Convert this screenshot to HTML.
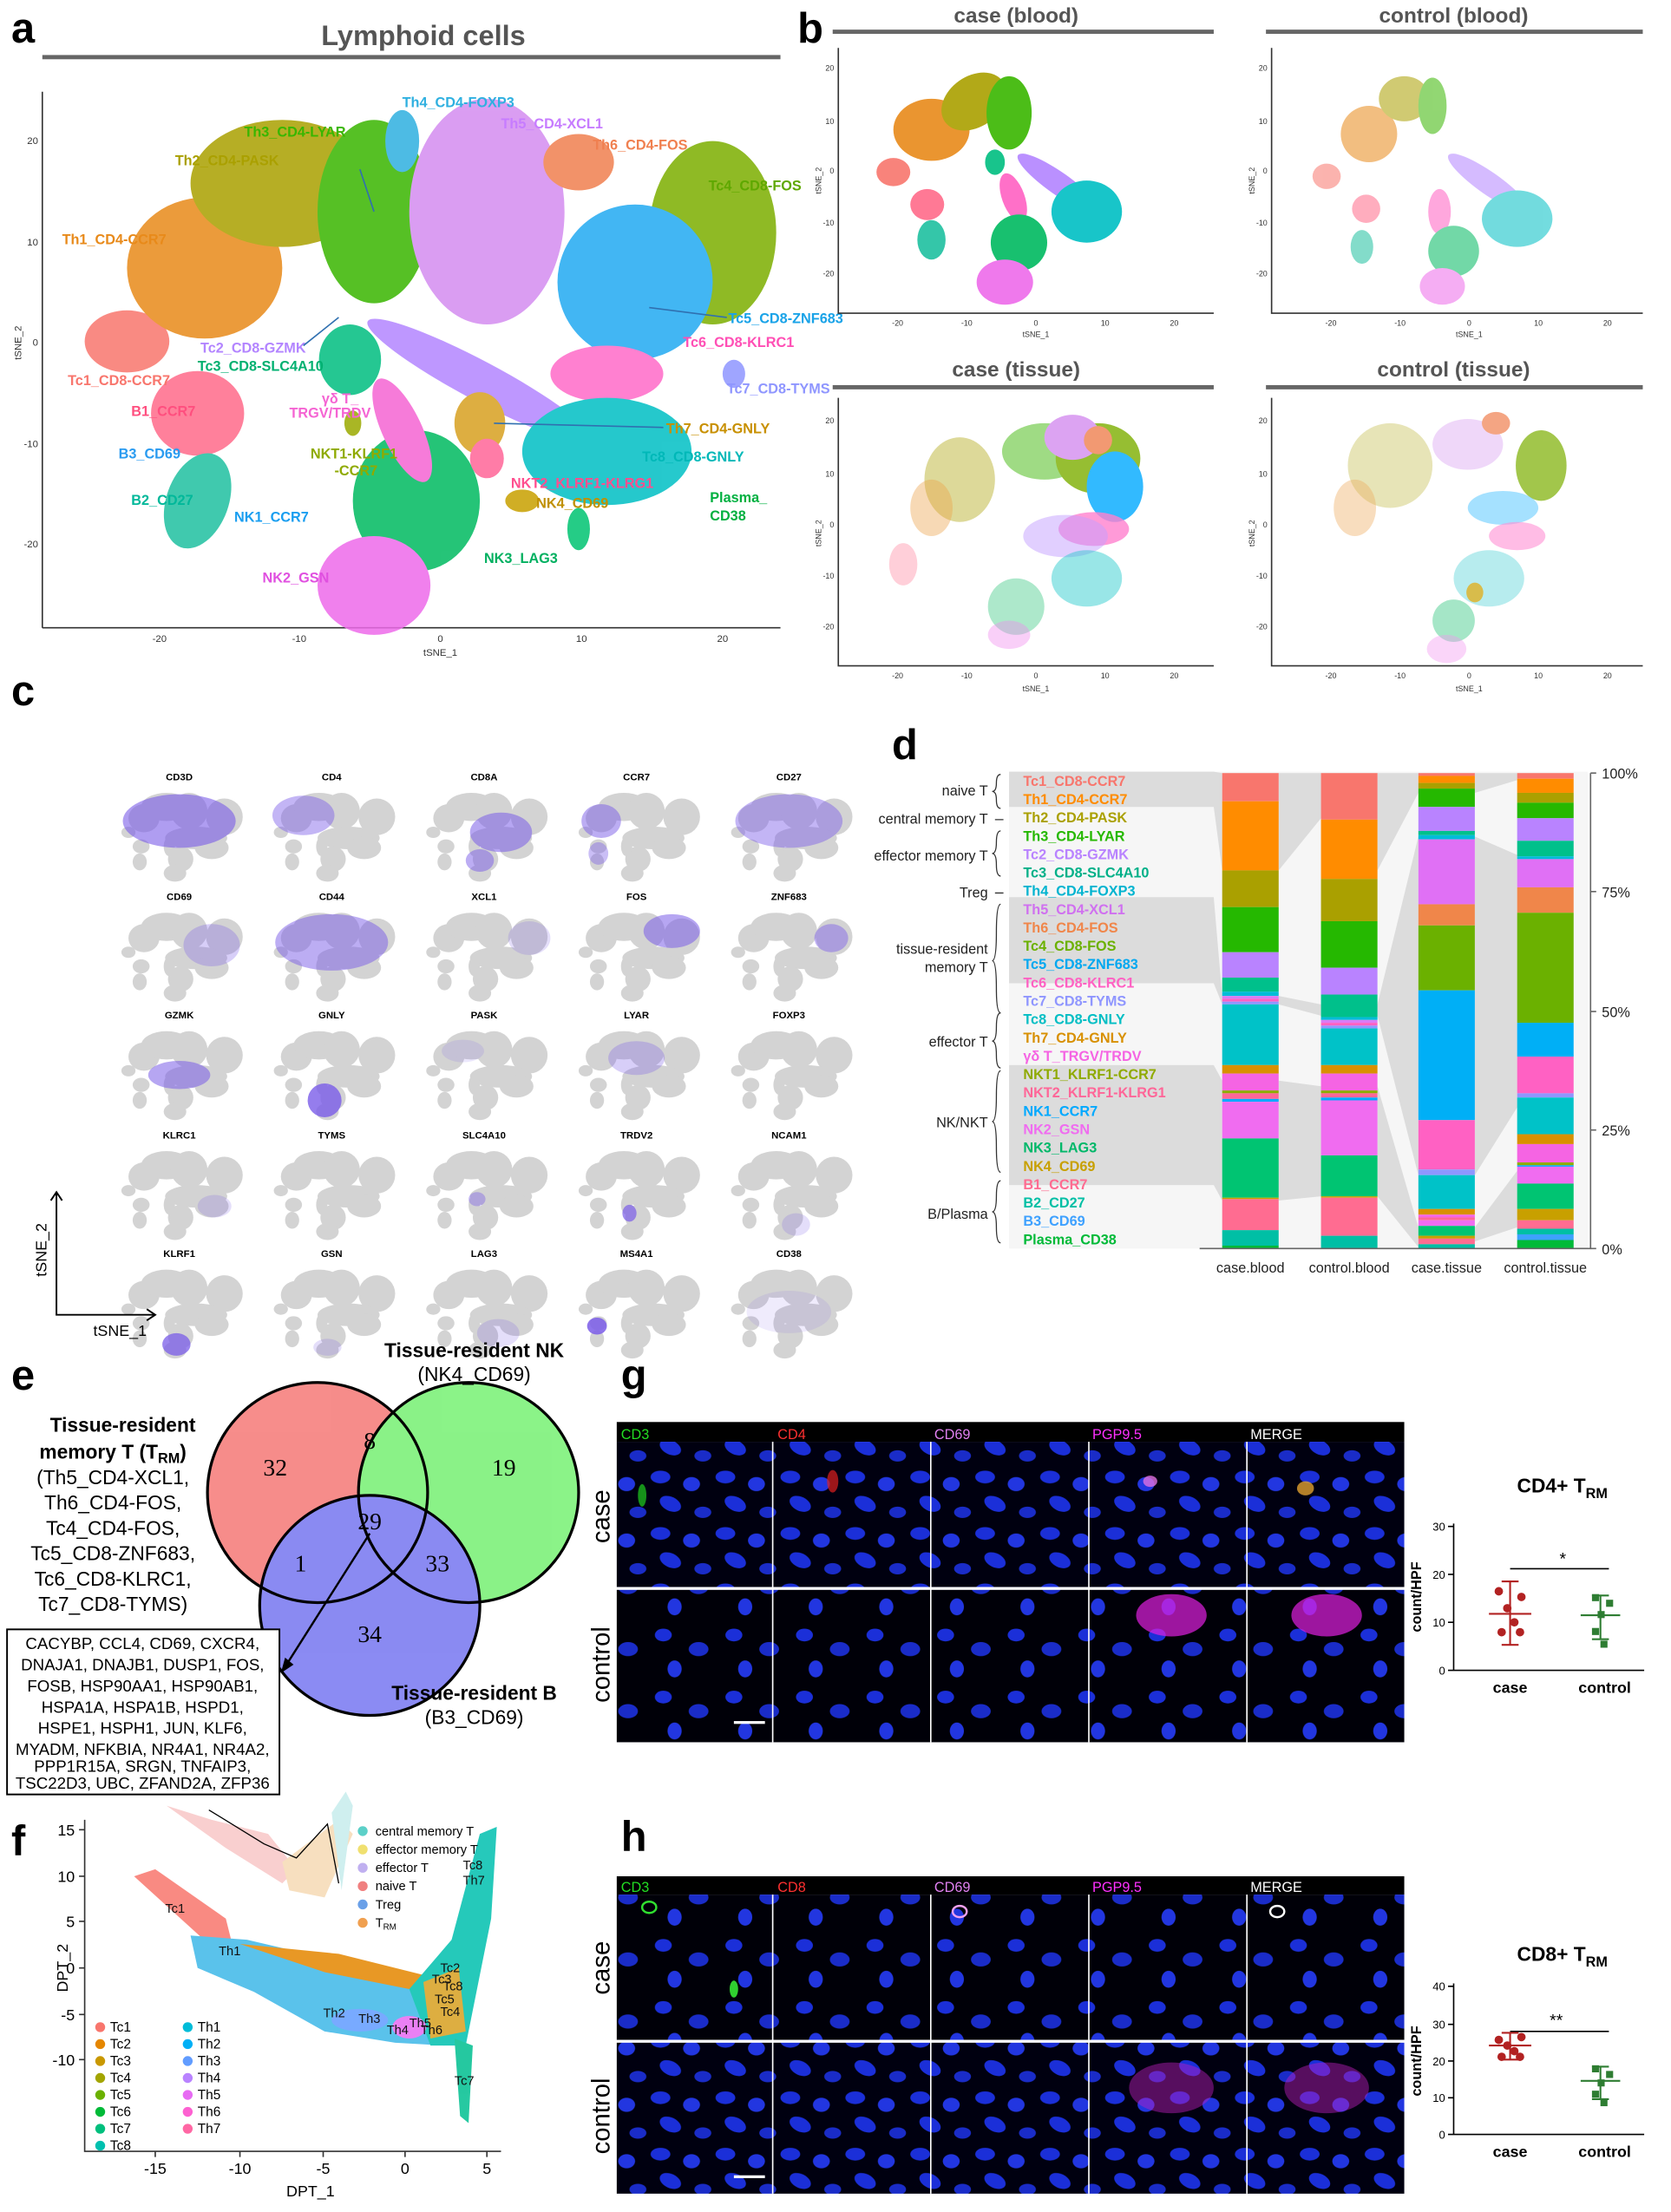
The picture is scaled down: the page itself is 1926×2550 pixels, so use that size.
<!DOCTYPE html>
<html><head><meta charset="utf-8"><style>
html,body{margin:0;padding:0;background:#fff;}
svg{display:block;font-family:"Liberation Sans",Arial,sans-serif;}
</style></head><body>
<svg width="1926" height="2550" viewBox="0 0 1184 1568" preserveAspectRatio="none" xmlns="http://www.w3.org/2000/svg">
<defs>
<g id="mini">
<ellipse cx="9" cy="30" rx="5" ry="4" fill="#d3d3d3"/>
<ellipse cx="20" cy="20" rx="11" ry="10" fill="#d3d3d3"/>
<ellipse cx="36" cy="12" rx="18" ry="10" fill="#d3d3d3"/>
<ellipse cx="52" cy="15" rx="13" ry="13" fill="#d3d3d3"/>
<ellipse cx="77" cy="19" rx="13" ry="13" fill="#d3d3d3"/>
<ellipse cx="57" cy="34" rx="22" ry="8" fill="#d3d3d3"/>
<ellipse cx="18" cy="40" rx="6" ry="5" fill="#d3d3d3"/>
<ellipse cx="17" cy="51" rx="5" ry="6" fill="#d3d3d3"/>
<ellipse cx="46" cy="49" rx="9" ry="9" fill="#d3d3d3"/>
<ellipse cx="42" cy="59" rx="8" ry="6" fill="#d3d3d3"/>
<ellipse cx="68" cy="41" rx="12" ry="8" fill="#d3d3d3"/>
<ellipse cx="38" cy="40" rx="4" ry="7" fill="#d3d3d3"/>
</g>
<pattern id="nuc" x="0" y="0" width="46" height="40" patternUnits="userSpaceOnUse">
<rect width="46" height="40" fill="#000010"/>
<ellipse cx="8" cy="7" rx="7" ry="4.5" fill="#1b2fd8"/>
<ellipse cx="30" cy="12" rx="6" ry="5" fill="#2236e0"/>
<ellipse cx="15" cy="26" rx="8" ry="5" fill="#1b2fd8" transform="rotate(25 15 26)"/>
<ellipse cx="38" cy="32" rx="6" ry="4" fill="#1a2cc8"/>
</pattern>
<pattern id="nuc2" x="10" y="5" width="50" height="44" patternUnits="userSpaceOnUse">
<rect width="50" height="44" fill="#000008"/>
<ellipse cx="10" cy="10" rx="6" ry="4.5" fill="#1b2fd8"/>
<ellipse cx="35" cy="20" rx="7" ry="5" fill="#1a2cc8"/>
<ellipse cx="18" cy="34" rx="5" ry="6" fill="#2236e0"/>
</pattern>
</defs>
<rect width="1184" height="1568" fill="#fff"/>

<!-- ================= Panel a ================= -->
<text x="8" y="30" font-size="30" font-weight="bold">a</text>
<text x="300" y="32" font-size="20" font-weight="bold" fill="#555" text-anchor="middle">Lymphoid cells</text>
<rect x="30" y="39" width="523" height="3" fill="#666"/>
<line x1="30" y1="65" x2="30" y2="445" stroke="#333"/>
<line x1="30" y1="445" x2="553" y2="445" stroke="#333"/>
<g font-size="7" fill="#333" text-anchor="end">
<text x="27" y="102">20</text><text x="27" y="174">10</text><text x="27" y="245">0</text><text x="27" y="317">-10</text><text x="27" y="388">-20</text></g>
<g font-size="7" fill="#333" text-anchor="middle">
<text x="113" y="455">-20</text><text x="212" y="455">-10</text><text x="312" y="455">0</text><text x="412" y="455">10</text><text x="512" y="455">20</text>
<text x="312" y="465">tSNE_1</text></g>
<text x="15" y="243" font-size="7" fill="#333" text-anchor="middle" transform="rotate(-90 15 243)">tSNE_2</text>
<g opacity="0.85">
<ellipse cx="90" cy="242" rx="30" ry="22" fill="#F8766D"/>
<ellipse cx="145" cy="190" rx="55" ry="50" fill="#E88A1A"/>
<ellipse cx="200" cy="130" rx="65" ry="45" fill="#AAA000"/>
<ellipse cx="265" cy="150" rx="40" ry="65" fill="#39B600"/>
<ellipse cx="285" cy="100" rx="12" ry="22" fill="#2FB0E0"/>
<ellipse cx="345" cy="150" rx="55" ry="80" fill="#D48DF0"/>
<ellipse cx="410" cy="115" rx="25" ry="20" fill="#F08050"/>
<ellipse cx="505" cy="165" rx="45" ry="65" fill="#7CAE00"/>
<ellipse cx="450" cy="200" rx="55" ry="55" fill="#22AAF2"/>
<ellipse cx="430" cy="265" rx="40" ry="20" fill="#FF6BC8"/>
<ellipse cx="340" cy="270" rx="90" ry="14" fill="#B385FF" transform="rotate(28 340 270)"/>
<ellipse cx="248" cy="255" rx="22" ry="25" fill="#00BE80"/>
<ellipse cx="430" cy="320" rx="60" ry="38" fill="#00BFC4"/>
<ellipse cx="340" cy="300" rx="18" ry="22" fill="#D8A020"/>
<ellipse cx="140" cy="293" rx="33" ry="30" fill="#FF6B8A"/>
<ellipse cx="140" cy="355" rx="22" ry="35" fill="#1FC0A0" transform="rotate(20 140 355)"/>
<ellipse cx="295" cy="355" rx="45" ry="50" fill="#00BA60"/>
<ellipse cx="265" cy="415" rx="40" ry="35" fill="#EE6BEA"/>
<ellipse cx="285" cy="305" rx="14" ry="40" fill="#F564D3" transform="rotate(-25 285 305)"/>
<ellipse cx="345" cy="325" rx="12" ry="14" fill="#FF6698"/>
<ellipse cx="370" cy="355" rx="12" ry="8" fill="#C8A000"/>
<ellipse cx="250" cy="300" rx="6" ry="9" fill="#9BAA00"/>
<ellipse cx="520" cy="265" rx="8" ry="10" fill="#8F96FF"/>
<ellipse cx="410" cy="375" rx="8" ry="15" fill="#00C472"/>
</g>
<g font-size="10" font-weight="bold">
<text x="285" y="76" fill="#2FB0E0">Th4_CD4-FOXP3</text>
<text x="173" y="97" fill="#39B600">Th3_CD4-LYAR</text>
<text x="355" y="91" fill="#C77CFF">Th5_CD4-XCL1</text>
<text x="420" y="106" fill="#F08050">Th6_CD4-FOS</text>
<text x="124" y="117" fill="#AAA000">Th2_CD4-PASK</text>
<text x="502" y="135" fill="#5FA800">Tc4_CD8-FOS</text>
<text x="44" y="173" fill="#E88A1A">Th1_CD4-CCR7</text>
<text x="516" y="229" fill="#1AA3E8">Tc5_CD8-ZNF683</text>
<text x="484" y="246" fill="#FF4FB5">Tc6_CD8-KLRC1</text>
<text x="142" y="250" fill="#B385FF">Tc2_CD8-GZMK</text>
<text x="140" y="263" fill="#00B070">Tc3_CD8-SLC4A10</text>
<text x="48" y="273" fill="#F8766D">Tc1_CD8-CCR7</text>
<text x="515" y="279" fill="#8F96FF">Tc7_CD8-TYMS</text>
<text x="228" y="286" fill="#F564D3">γδ T_</text>
<text x="205" y="296" fill="#F564D3">TRGV/TRDV</text>
<text x="93" y="295" fill="#FF4F7F">B1_CCR7</text>
<text x="472" y="307" fill="#C89000">Th7_CD4-GNLY</text>
<text x="84" y="325" fill="#2A9BF0">B3_CD69</text>
<text x="220" y="325" fill="#8FAA00">NKT1-KLRF1</text>
<text x="237" y="337" fill="#8FAA00">-CCR7</text>
<text x="455" y="327" fill="#00B8B8">Tc8_CD8-GNLY</text>
<text x="362" y="346" fill="#FF4F8F">NKT2_KLRF1-KLRG1</text>
<text x="93" y="358" fill="#00B89A">B2_CD27</text>
<text x="380" y="360" fill="#C09000">NK4_CD69</text>
<text x="503" y="356" fill="#00B040">Plasma_</text>
<text x="503" y="369" fill="#00B040">CD38</text>
<text x="166" y="370" fill="#1A9EF0">NK1_CCR7</text>
<text x="343" y="399" fill="#00B060">NK3_LAG3</text>
<text x="186" y="413" fill="#E050E0">NK2_GSN</text>
</g>
<g stroke="#3070B0" stroke-width="1">
<line x1="255" y1="120" x2="265" y2="150"/>
<line x1="515" y1="225" x2="460" y2="218"/>
<line x1="215" y1="245" x2="240" y2="225"/>
<line x1="470" y1="303" x2="350" y2="300"/>
</g>

<!-- ================= Panel b ================= -->
<text x="565" y="30" font-size="30" font-weight="bold">b</text>
<g font-size="15" font-weight="bold" fill="#555" text-anchor="middle">
<text x="720" y="16">case (blood)</text><text x="1030" y="16">control (blood)</text>
<text x="720" y="267">case (tissue)</text><text x="1030" y="267">control (tissue)</text></g>
<g fill="#666"><rect x="590" y="21" width="270" height="3"/><rect x="897" y="21" width="267" height="3"/>
<rect x="590" y="273" width="270" height="3"/><rect x="897" y="273" width="267" height="3"/></g>
<g stroke="#333" fill="none">
<path d="M594 34 V222 H860"/><path d="M901 34 V222 H1164"/>
<path d="M594 282 V472 H860"/><path d="M901 282 V472 H1164"/>
</g>
<g font-size="5.5" fill="#333" text-anchor="middle">
<text x="636" y="231">-20</text><text x="685" y="231">-10</text><text x="734" y="231">0</text><text x="783" y="231">10</text><text x="832" y="231">20</text>
<text x="943" y="231">-20</text><text x="992" y="231">-10</text><text x="1041" y="231">0</text><text x="1090" y="231">10</text><text x="1139" y="231">20</text>
<text x="734" y="239">tSNE_1</text><text x="1041" y="239">tSNE_1</text>
<text x="636" y="481">-20</text><text x="685" y="481">-10</text><text x="734" y="481">0</text><text x="783" y="481">10</text><text x="832" y="481">20</text>
<text x="943" y="481">-20</text><text x="992" y="481">-10</text><text x="1041" y="481">0</text><text x="1090" y="481">10</text><text x="1139" y="481">20</text>
<text x="734" y="490">tSNE_1</text><text x="1041" y="490">tSNE_1</text>
</g>
<g font-size="5.5" fill="#333" text-anchor="end">
<text x="591" y="50">20</text><text x="591" y="88">10</text><text x="591" y="123">0</text><text x="591" y="160">-10</text><text x="591" y="196">-20</text>
<text x="898" y="50">20</text><text x="898" y="88">10</text><text x="898" y="123">0</text><text x="898" y="160">-10</text><text x="898" y="196">-20</text>
<text x="591" y="300">20</text><text x="591" y="338">10</text><text x="591" y="374">0</text><text x="591" y="410">-10</text><text x="591" y="446">-20</text>
<text x="898" y="300">20</text><text x="898" y="338">10</text><text x="898" y="374">0</text><text x="898" y="410">-10</text><text x="898" y="446">-20</text>
</g>
<g font-size="5.5" fill="#333" text-anchor="middle">
<text x="582" y="128" transform="rotate(-90 582 128)">tSNE_2</text><text x="889" y="128" transform="rotate(-90 889 128)">tSNE_2</text>
<text x="582" y="378" transform="rotate(-90 582 378)">tSNE_2</text><text x="889" y="378" transform="rotate(-90 889 378)">tSNE_2</text></g>
<g opacity="0.9">
<ellipse cx="633" cy="122" rx="12" ry="10" fill="#F8766D"/>
<ellipse cx="660" cy="92" rx="27" ry="22" fill="#E88A1A"/>
<ellipse cx="690" cy="72" rx="25" ry="18" fill="#AAA000" transform="rotate(-35 690 72)"/>
<ellipse cx="715" cy="80" rx="16" ry="26" fill="#39B600"/>
<ellipse cx="750" cy="130" rx="35" ry="8" fill="#B385FF" transform="rotate(35 750 130)"/>
<ellipse cx="770" cy="150" rx="25" ry="22" fill="#00BFC4"/>
<ellipse cx="718" cy="140" rx="8" ry="18" fill="#FF61C3" transform="rotate(-20 718 140)"/>
<ellipse cx="705" cy="115" rx="7" ry="9" fill="#00BE80"/>
<ellipse cx="657" cy="145" rx="12" ry="11" fill="#FF6B8A"/>
<ellipse cx="660" cy="170" rx="10" ry="14" fill="#1FC0A0"/>
<ellipse cx="722" cy="172" rx="20" ry="20" fill="#00BA60"/>
<ellipse cx="712" cy="200" rx="20" ry="16" fill="#EE6BEA"/>
</g>
<g opacity="0.55">
<ellipse cx="940" cy="125" rx="10" ry="9" fill="#F8766D"/>
<ellipse cx="970" cy="95" rx="20" ry="20" fill="#E88A1A"/>
<ellipse cx="995" cy="70" rx="18" ry="16" fill="#AAA000"/>
<ellipse cx="1015" cy="75" rx="10" ry="20" fill="#39B600"/>
<ellipse cx="1055" cy="130" rx="35" ry="8" fill="#B385FF" transform="rotate(35 1055 130)"/>
<ellipse cx="1075" cy="155" rx="25" ry="20" fill="#00BFC4"/>
<ellipse cx="1020" cy="150" rx="8" ry="16" fill="#FF61C3"/>
<ellipse cx="968" cy="148" rx="10" ry="10" fill="#FF6B8A"/>
<ellipse cx="965" cy="175" rx="8" ry="12" fill="#1FC0A0"/>
<ellipse cx="1030" cy="178" rx="18" ry="18" fill="#00BA60"/>
<ellipse cx="1022" cy="203" rx="16" ry="13" fill="#EE6BEA"/>
</g>
<g opacity="0.8">
<ellipse cx="680" cy="340" rx="25" ry="30" fill="#AAA000" opacity="0.5"/>
<ellipse cx="660" cy="360" rx="15" ry="20" fill="#E88A1A" opacity="0.4"/>
<ellipse cx="740" cy="320" rx="30" ry="20" fill="#39B600" opacity="0.6"/>
<ellipse cx="778" cy="325" rx="30" ry="25" fill="#7CAE00"/>
<ellipse cx="760" cy="310" rx="20" ry="16" fill="#D48DF0"/>
<ellipse cx="778" cy="312" rx="10" ry="10" fill="#F08050"/>
<ellipse cx="790" cy="345" rx="20" ry="25" fill="#00A9FF"/>
<ellipse cx="775" cy="375" rx="25" ry="12" fill="#FF61C3" opacity="0.8"/>
<ellipse cx="755" cy="380" rx="30" ry="15" fill="#B385FF" opacity="0.5"/>
<ellipse cx="770" cy="410" rx="25" ry="20" fill="#00BFC4" opacity="0.5"/>
<ellipse cx="720" cy="430" rx="20" ry="20" fill="#00BA60" opacity="0.4"/>
<ellipse cx="715" cy="450" rx="15" ry="10" fill="#EE6BEA" opacity="0.4"/>
<ellipse cx="640" cy="400" rx="10" ry="15" fill="#FF6B8A" opacity="0.4"/>
</g>
<g opacity="0.7">
<ellipse cx="985" cy="330" rx="30" ry="30" fill="#AAA000" opacity="0.4"/>
<ellipse cx="960" cy="360" rx="15" ry="20" fill="#E88A1A" opacity="0.4"/>
<ellipse cx="1040" cy="315" rx="25" ry="18" fill="#D48DF0" opacity="0.5"/>
<ellipse cx="1060" cy="300" rx="10" ry="8" fill="#F08050"/>
<ellipse cx="1092" cy="330" rx="18" ry="25" fill="#7CAE00"/>
<ellipse cx="1065" cy="360" rx="25" ry="12" fill="#00A9FF" opacity="0.5"/>
<ellipse cx="1075" cy="380" rx="20" ry="10" fill="#FF61C3" opacity="0.6"/>
<ellipse cx="1055" cy="410" rx="25" ry="20" fill="#00BFC4" opacity="0.4"/>
<ellipse cx="1030" cy="440" rx="15" ry="15" fill="#00BA60" opacity="0.5"/>
<ellipse cx="1025" cy="460" rx="14" ry="10" fill="#EE6BEA" opacity="0.4"/>
<ellipse cx="1045" cy="420" rx="6" ry="7" fill="#C8A000"/>
</g>

<!-- ================= Panel c ================= -->
<text x="8" y="500" font-size="30" font-weight="bold">c</text>
<g font-size="7" font-weight="bold" text-anchor="middle">
<text x="127" y="553">CD3D</text><text x="235" y="553">CD4</text><text x="343" y="553">CD8A</text><text x="451" y="553">CCR7</text><text x="559" y="553">CD27</text>
<text x="127" y="638">CD69</text><text x="235" y="638">CD44</text><text x="343" y="638">XCL1</text><text x="451" y="638">FOS</text><text x="559" y="638">ZNF683</text>
<text x="127" y="722">GZMK</text><text x="235" y="722">GNLY</text><text x="343" y="722">PASK</text><text x="451" y="722">LYAR</text><text x="559" y="722">FOXP3</text>
<text x="127" y="807">KLRC1</text><text x="235" y="807">TYMS</text><text x="343" y="807">SLC4A10</text><text x="451" y="807">TRDV2</text><text x="559" y="807">NCAM1</text>
<text x="127" y="891">KLRF1</text><text x="235" y="891">GSN</text><text x="343" y="891">LAG3</text><text x="451" y="891">MS4A1</text><text x="559" y="891">CD38</text>
</g>
<g>
<use href="#mini" x="82" y="560"/><use href="#mini" x="190" y="560"/><use href="#mini" x="298" y="560"/><use href="#mini" x="406" y="560"/><use href="#mini" x="514" y="560"/>
<use href="#mini" x="82" y="645"/><use href="#mini" x="190" y="645"/><use href="#mini" x="298" y="645"/><use href="#mini" x="406" y="645"/><use href="#mini" x="514" y="645"/>
<use href="#mini" x="82" y="729"/><use href="#mini" x="190" y="729"/><use href="#mini" x="298" y="729"/><use href="#mini" x="406" y="729"/><use href="#mini" x="514" y="729"/>
<use href="#mini" x="82" y="814"/><use href="#mini" x="190" y="814"/><use href="#mini" x="298" y="814"/><use href="#mini" x="406" y="814"/><use href="#mini" x="514" y="814"/>
<use href="#mini" x="82" y="898"/><use href="#mini" x="190" y="898"/><use href="#mini" x="298" y="898"/><use href="#mini" x="406" y="898"/><use href="#mini" x="514" y="898"/>
</g>
<g fill="#7a5ce8">
<ellipse cx="127" cy="582" rx="40" ry="19" opacity="0.6"/>
<ellipse cx="215" cy="578" rx="22" ry="14" opacity="0.45"/>
<ellipse cx="355" cy="590" rx="22" ry="14" opacity="0.55"/><ellipse cx="340" cy="610" rx="10" ry="8" opacity="0.5"/>
<ellipse cx="426" cy="582" rx="14" ry="12" opacity="0.5"/><ellipse cx="424" cy="605" rx="7" ry="8" opacity="0.4"/>
<ellipse cx="559" cy="582" rx="38" ry="19" opacity="0.45"/>
<ellipse cx="150" cy="670" rx="20" ry="15" opacity="0.3"/>
<ellipse cx="235" cy="668" rx="40" ry="20" opacity="0.5"/>
<ellipse cx="375" cy="665" rx="15" ry="12" opacity="0.2"/>
<ellipse cx="476" cy="660" rx="20" ry="12" opacity="0.55"/>
<ellipse cx="589" cy="665" rx="12" ry="10" opacity="0.45"/>
<ellipse cx="127" cy="762" rx="22" ry="10" opacity="0.55"/>
<ellipse cx="230" cy="780" rx="12" ry="12" opacity="0.8"/>
<ellipse cx="328" cy="745" rx="15" ry="8" opacity="0.15"/>
<ellipse cx="451" cy="750" rx="20" ry="12" opacity="0.3"/>
<ellipse cx="152" cy="855" rx="12" ry="8" opacity="0.2"/>
<ellipse cx="338" cy="850" rx="6" ry="5" opacity="0.4"/>
<ellipse cx="446" cy="860" rx="5" ry="6" opacity="0.7"/>
<ellipse cx="564" cy="868" rx="10" ry="8" opacity="0.2"/>
<ellipse cx="125" cy="953" rx="10" ry="8" opacity="0.75"/>
<ellipse cx="232" cy="955" rx="10" ry="6" opacity="0.2"/>
<ellipse cx="353" cy="945" rx="15" ry="10" opacity="0.2"/>
<ellipse cx="423" cy="940" rx="7" ry="6" opacity="0.85"/>
<ellipse cx="559" cy="930" rx="30" ry="15" opacity="0.12"/>
</g>
<g stroke="#000" stroke-width="1.2" fill="none">
<path d="M40 845 V932 H110"/><path d="M36 851 L40 845 L44 851"/><path d="M104 928 L110 932 L104 936"/>
</g>
<text x="33" y="886" font-size="11" text-anchor="middle" transform="rotate(-90 33 886)">tSNE_2</text>
<text x="85" y="947" font-size="11" text-anchor="middle">tSNE_1</text>

<!-- ================= Panel d ================= -->
<text x="632" y="538" font-size="30" font-weight="bold">d</text>
<rect x="715" y="547" width="410" height="338" fill="#f6f6f6"/>
<g fill="#dcdcdc">
<polygon points="715,547 860,547 866,548 866,617 860,572 715,572"/>
<polygon points="715,636 860,636 866,706 866,712 860,697 715,697"/>
<polygon points="715,755 860,755 866,766 866,851 860,840 715,840"/>
<polygon points="906,548 936,548 936,580 906,617"/>
<polygon points="906,706 936,712 936,720 906,712"/>
<polygon points="906,766 936,770 936,848 906,851"/>
<polygon points="976,548 1005,548 1005,562 976,617"/>
<polygon points="976,712 1005,593 1005,833 976,720"/>
<polygon points="976,770 1005,870 1005,884 976,848"/>
<polygon points="1045,548 1075,548 1075,553 1045,562"/>
<polygon points="1045,593 1075,606 1075,785 1045,833"/>
<polygon points="1045,870 1075,830 1075,870 1045,880"/>
</g>
<g>
<rect x="866" y="548" width="40" height="20" fill="#F8766D"/>
<rect x="866" y="568" width="40" height="49" fill="#FF8C00"/>
<rect x="866" y="617" width="40" height="26" fill="#AAA000"/>
<rect x="866" y="643" width="40" height="32" fill="#25B800"/>
<rect x="866" y="675" width="40" height="18" fill="#B983FF"/>
<rect x="866" y="693" width="40" height="10" fill="#00C08B"/>
<rect x="866" y="703" width="40" height="3" fill="#00BCD8"/>
<rect x="866" y="706" width="40" height="2" fill="#D97BF5"/>
<rect x="866" y="708" width="40" height="2" fill="#FF61C3"/>
<rect x="866" y="710" width="40" height="2" fill="#8F96FF"/>
<rect x="866" y="712" width="40" height="43" fill="#00C2C8"/>
<rect x="866" y="755" width="40" height="6" fill="#D89000"/>
<rect x="866" y="761" width="40" height="12" fill="#F564E3"/>
<rect x="866" y="773" width="40" height="2" fill="#8FAA00"/>
<rect x="866" y="775" width="40" height="4" fill="#FF6698"/>
<rect x="866" y="779" width="40" height="2" fill="#00A9FF"/>
<rect x="866" y="781" width="40" height="26" fill="#F06CF0"/>
<rect x="866" y="807" width="40" height="42" fill="#00C472"/>
<rect x="866" y="849" width="40" height="1" fill="#C8A000"/>
<rect x="866" y="850" width="40" height="22" fill="#FF6C91"/>
<rect x="866" y="872" width="40" height="11" fill="#00BFA5"/>
<rect x="866" y="883" width="40" height="2" fill="#00BA38"/>
</g>
<g>
<rect x="936" y="548" width="40" height="33" fill="#F8766D"/>
<rect x="936" y="581" width="40" height="42" fill="#FF8C00"/>
<rect x="936" y="623" width="40" height="30" fill="#AAA000"/>
<rect x="936" y="653" width="40" height="33" fill="#25B800"/>
<rect x="936" y="686" width="40" height="19" fill="#B983FF"/>
<rect x="936" y="705" width="40" height="16" fill="#00C08B"/>
<rect x="936" y="721" width="40" height="2" fill="#00BCD8"/>
<rect x="936" y="723" width="40" height="2" fill="#D97BF5"/>
<rect x="936" y="725" width="40" height="2" fill="#FF61C3"/>
<rect x="936" y="727" width="40" height="2" fill="#8F96FF"/>
<rect x="936" y="729" width="40" height="26" fill="#00C2C8"/>
<rect x="936" y="755" width="40" height="6" fill="#D89000"/>
<rect x="936" y="761" width="40" height="12" fill="#F564E3"/>
<rect x="936" y="773" width="40" height="2" fill="#8FAA00"/>
<rect x="936" y="775" width="40" height="3" fill="#FF6698"/>
<rect x="936" y="778" width="40" height="2" fill="#00A9FF"/>
<rect x="936" y="780" width="40" height="39" fill="#F06CF0"/>
<rect x="936" y="819" width="40" height="29" fill="#00C472"/>
<rect x="936" y="848" width="40" height="1" fill="#C8A000"/>
<rect x="936" y="849" width="40" height="27" fill="#FF6C91"/>
<rect x="936" y="876" width="40" height="9" fill="#00BFA5"/>
</g>
<g>
<rect x="1005" y="548" width="40" height="2" fill="#F8766D"/>
<rect x="1005" y="550" width="40" height="5" fill="#FF8C00"/>
<rect x="1005" y="555" width="40" height="4" fill="#AAA000"/>
<rect x="1005" y="559" width="40" height="13" fill="#25B800"/>
<rect x="1005" y="572" width="40" height="17" fill="#B983FF"/>
<rect x="1005" y="589" width="40" height="3" fill="#00C08B"/>
<rect x="1005" y="592" width="40" height="3" fill="#00BCD8"/>
<rect x="1005" y="595" width="40" height="46" fill="#E070F5"/>
<rect x="1005" y="641" width="40" height="15" fill="#F0864A"/>
<rect x="1005" y="656" width="40" height="46" fill="#6BB100"/>
<rect x="1005" y="702" width="40" height="92" fill="#00AFF6"/>
<rect x="1005" y="794" width="40" height="35" fill="#FF61C3"/>
<rect x="1005" y="829" width="40" height="4" fill="#8F96FF"/>
<rect x="1005" y="833" width="40" height="24" fill="#00C2C8"/>
<rect x="1005" y="857" width="40" height="4" fill="#D89000"/>
<rect x="1005" y="861" width="40" height="2" fill="#F564E3"/>
<rect x="1005" y="863" width="40" height="2" fill="#FF6698"/>
<rect x="1005" y="865" width="40" height="4" fill="#F06CF0"/>
<rect x="1005" y="869" width="40" height="7" fill="#00C472"/>
<rect x="1005" y="876" width="40" height="2" fill="#C8A000"/>
<rect x="1005" y="878" width="40" height="4" fill="#FF6C91"/>
<rect x="1005" y="882" width="40" height="3" fill="#00BFA5"/>
</g>
<g>
<rect x="1075" y="548" width="40" height="4" fill="#F8766D"/>
<rect x="1075" y="552" width="40" height="10" fill="#FF8C00"/>
<rect x="1075" y="562" width="40" height="7" fill="#AAA000"/>
<rect x="1075" y="569" width="40" height="11" fill="#25B800"/>
<rect x="1075" y="580" width="40" height="16" fill="#B983FF"/>
<rect x="1075" y="596" width="40" height="11" fill="#00C08B"/>
<rect x="1075" y="607" width="40" height="2" fill="#00BCD8"/>
<rect x="1075" y="609" width="40" height="20" fill="#E070F5"/>
<rect x="1075" y="629" width="40" height="18" fill="#F0864A"/>
<rect x="1075" y="647" width="40" height="78" fill="#6BB100"/>
<rect x="1075" y="725" width="40" height="24" fill="#00AFF6"/>
<rect x="1075" y="749" width="40" height="26" fill="#FF61C3"/>
<rect x="1075" y="775" width="40" height="3" fill="#8F96FF"/>
<rect x="1075" y="778" width="40" height="26" fill="#00C2C8"/>
<rect x="1075" y="804" width="40" height="7" fill="#D89000"/>
<rect x="1075" y="811" width="40" height="13" fill="#F564E3"/>
<rect x="1075" y="824" width="40" height="2" fill="#8FAA00"/>
<rect x="1075" y="826" width="40" height="1" fill="#00A9FF"/>
<rect x="1075" y="827" width="40" height="12" fill="#F06CF0"/>
<rect x="1075" y="839" width="40" height="18" fill="#00C472"/>
<rect x="1075" y="857" width="40" height="8" fill="#C8A000"/>
<rect x="1075" y="865" width="40" height="6" fill="#FF6C91"/>
<rect x="1075" y="871" width="40" height="4" fill="#00BFA5"/>
<rect x="1075" y="875" width="40" height="4" fill="#3EA1FF"/>
<rect x="1075" y="879" width="40" height="6" fill="#00BA38"/>
</g>
<g stroke="#666" fill="none"><path d="M1127 548 V885 H850"/>
<path d="M1127 548 h4 M1127 632 h4 M1127 717 h4 M1127 801 h4 M1127 885 h4"/></g>
<g font-size="10" fill="#222"><text x="1135" y="552">100%</text><text x="1135" y="636">75%</text><text x="1135" y="721">50%</text><text x="1135" y="805">25%</text><text x="1135" y="889">0%</text></g>
<g font-size="10" fill="#222" text-anchor="middle"><text x="886" y="902">case.blood</text><text x="956" y="902">control.blood</text><text x="1025" y="902">case.tissue</text><text x="1095" y="902">control.tissue</text></g>
<g font-size="10" font-weight="bold">
<text x="725" y="557" fill="#F8766D">Tc1_CD8-CCR7</text>
<text x="725" y="570" fill="#FF8C00">Th1_CD4-CCR7</text>
<text x="725" y="583" fill="#AAA000">Th2_CD4-PASK</text>
<text x="725" y="596" fill="#25B800">Th3_CD4-LYAR</text>
<text x="725" y="609" fill="#B983FF">Tc2_CD8-GZMK</text>
<text x="725" y="622" fill="#00B088">Tc3_CD8-SLC4A10</text>
<text x="725" y="635" fill="#00B4D0">Th4_CD4-FOXP3</text>
<text x="725" y="648" fill="#D070F0">Th5_CD4-XCL1</text>
<text x="725" y="661" fill="#F0864A">Th6_CD4-FOS</text>
<text x="725" y="674" fill="#6BB100">Tc4_CD8-FOS</text>
<text x="725" y="687" fill="#00A8F0">Tc5_CD8-ZNF683</text>
<text x="725" y="700" fill="#FF61C3">Tc6_CD8-KLRC1</text>
<text x="725" y="713" fill="#8F96FF">Tc7_CD8-TYMS</text>
<text x="725" y="726" fill="#00BEC4">Tc8_CD8-GNLY</text>
<text x="725" y="739" fill="#D89000">Th7_CD4-GNLY</text>
<text x="725" y="752" fill="#F564E3">γδ T_TRGV/TRDV</text>
<text x="725" y="765" fill="#8FAA00">NKT1_KLRF1-CCR7</text>
<text x="725" y="778" fill="#FF6698">NKT2_KLRF1-KLRG1</text>
<text x="725" y="791" fill="#00A9FF">NK1_CCR7</text>
<text x="725" y="804" fill="#F06CF0">NK2_GSN</text>
<text x="725" y="817" fill="#00B86A">NK3_LAG3</text>
<text x="725" y="830" fill="#C8A000">NK4_CD69</text>
<text x="725" y="843" fill="#FF6C91">B1_CCR7</text>
<text x="725" y="856" fill="#00BFA5">B2_CD27</text>
<text x="725" y="869" fill="#3EA1FF">B3_CD69</text>
<text x="725" y="882" fill="#00BA38">Plasma_CD38</text>
</g>
<g font-size="10" fill="#222" text-anchor="end">
<text x="700" y="564">naive T</text><text x="700" y="584">central memory T</text><text x="700" y="610">effector memory T</text>
<text x="700" y="636">Treg</text><text x="700" y="676">tissue-resident</text><text x="700" y="689">memory T</text>
<text x="700" y="742">effector T</text><text x="700" y="799">NK/NKT</text><text x="700" y="864">B/Plasma</text>
</g>
<g stroke="#333" fill="none" stroke-width="0.8">
<path d="M709 549 q-3 0 -3 6 q0 6 -3 6 q3 0 3 6 q0 6 3 6"/>
<path d="M705 581 h6 M705 633 h6"/>
<path d="M709 589 q-3 0 -3 8 q0 8 -3 8 q3 0 3 8 q0 8 3 8"/>
<path d="M709 641 q-3 0 -3 20 q0 20 -3 20 q3 0 3 20 q0 17 3 17"/>
<path d="M709 718 q-3 0 -3 10 q0 10 -3 10 q3 0 3 10 q0 9 3 9"/>
<path d="M709 759 q-3 0 -3 18 q0 18 -3 18 q3 0 3 18 q0 18 3 18"/>
<path d="M709 837 q-3 0 -3 11 q0 11 -3 11 q3 0 3 11 q0 11 3 11"/>
</g>

<!-- ================= Panel e ================= -->
<text x="8" y="985" font-size="30" font-weight="bold">e</text>
<g opacity="0.8">
<circle cx="225" cy="1058" r="78" fill="#F5706E"/>
<circle cx="332" cy="1058" r="78" fill="#6EF06A"/>
<circle cx="262" cy="1138" r="78" fill="#6E6EF0"/>
</g>
<g fill="none" stroke="#000" stroke-width="2"><circle cx="225" cy="1058" r="78"/><circle cx="332" cy="1058" r="78"/><circle cx="262" cy="1138" r="78"/></g>
<g font-size="17" font-family="Liberation Serif,serif" text-anchor="middle">
<text x="195" y="1046">32</text><text x="262" y="1027">8</text><text x="357" y="1046">19</text><text x="262" y="1084">29</text>
<text x="213" y="1114">1</text><text x="310" y="1114">33</text><text x="262" y="1164">34</text></g>
<line x1="262" y1="1087" x2="203" y2="1180" stroke="#000" stroke-width="1.5"/>
<path d="M199 1186 L202 1175 L208 1180 Z" fill="#000"/>
<g font-size="14" text-anchor="middle">
<text x="336" y="962" font-weight="bold">Tissue-resident NK</text><text x="336" y="979">(NK4_CD69)</text>
<text x="336" y="1205" font-weight="bold">Tissue-resident B</text><text x="336" y="1222">(B3_CD69)</text>
<text x="87" y="1015" font-weight="bold">Tissue-resident</text>
<text x="80" y="1034" font-weight="bold">memory T (T<tspan font-size="10" dy="3">RM</tspan><tspan dy="-3">)</tspan></text>
<text x="80" y="1052">(Th5_CD4-XCL1,</text><text x="80" y="1070">Th6_CD4-FOS,</text><text x="80" y="1088">Tc4_CD4-FOS,</text>
<text x="80" y="1106">Tc5_CD8-ZNF683,</text><text x="80" y="1124">Tc6_CD8-KLRC1,</text><text x="80" y="1142">Tc7_CD8-TYMS)</text>
</g>
<rect x="5" y="1155" width="193" height="117" fill="#fff" stroke="#000" stroke-width="1.2"/>
<g font-size="11.5" text-anchor="middle">
<text x="101" y="1169">CACYBP, CCL4, CD69, CXCR4,</text>
<text x="101" y="1184">DNAJA1, DNAJB1, DUSP1, FOS,</text>
<text x="101" y="1199">FOSB, HSP90AA1, HSP90AB1,</text>
<text x="101" y="1214">HSPA1A, HSPA1B, HSPD1,</text>
<text x="101" y="1229">HSPE1, HSPH1, JUN, KLF6,</text>
<text x="101" y="1244">MYADM, NFKBIA, NR4A1, NR4A2,</text>
<text x="101" y="1256">PPP1R15A, SRGN, TNFAIP3,</text>
<text x="101" y="1268">TSC22D3, UBC, ZFAND2A, ZFP36</text>
</g>

<!-- ================= Panel f ================= -->
<text x="8" y="1315" font-size="30" font-weight="bold">f</text>
<g stroke="#333" fill="none"><path d="M60 1290 V1525 H355"/>
<path d="M56 1297 h4 M56 1330 h4 M56 1362 h4 M56 1395 h4 M56 1428 h4 M56 1460 h4 M110 1525 v4 M170 1525 v4 M229 1525 v4 M287 1525 v4 M345 1525 v4"/></g>
<g font-size="11" text-anchor="end"><text x="53" y="1301">15</text><text x="53" y="1334">10</text><text x="53" y="1366">5</text><text x="53" y="1399">0</text><text x="53" y="1432">-5</text><text x="53" y="1464">-10</text></g>
<g font-size="11" text-anchor="middle"><text x="110" y="1541">-15</text><text x="170" y="1541">-10</text><text x="229" y="1541">-5</text><text x="287" y="1541">0</text><text x="345" y="1541">5</text><text x="220" y="1557">DPT_1</text></g>
<text x="48" y="1395" font-size="11" text-anchor="middle" transform="rotate(-90 48 1395)">DPT_2</text>
<g opacity="0.85">
<polygon points="95,1330 110,1325 160,1360 165,1380 150,1380" fill="#F8766D"/>
<polygon points="135,1372 175,1375 260,1395 310,1415 315,1450 280,1448 230,1440 180,1412 140,1395" fill="#3EB8E8"/>
<polygon points="170,1378 240,1385 300,1400 290,1410 230,1398" fill="#E58700"/>
<polygon points="290,1410 320,1375 340,1300 352,1295 348,1360 330,1450 305,1450" fill="#00C0AF"/>
<polygon points="300,1405 325,1395 330,1440 305,1445" fill="#D8A020"/>
<polygon points="322,1445 335,1450 332,1505 326,1500" fill="#00BF90"/>
<ellipse cx="290" cy="1437" rx="12" ry="8" fill="#E76BF3"/>
<ellipse cx="255" cy="1432" rx="20" ry="8" fill="#619CFF"/>
</g>
<g font-size="9" fill="#111"><text x="117" y="1356">Tc1</text><text x="155" y="1386">Th1</text><text x="229" y="1430">Th2</text><text x="254" y="1434">Th3</text><text x="274" y="1442">Th4</text><text x="290" y="1437">Th5</text><text x="298" y="1442">Th6</text>
<text x="312" y="1398">Tc2</text><text x="306" y="1406">Tc3</text><text x="314" y="1411">Tc8</text><text x="308" y="1420">Tc5</text><text x="312" y="1429">Tc4</text><text x="322" y="1478">Tc7</text><text x="328" y="1325">Tc8</text><text x="328" y="1336">Th7</text></g>
<g font-size="9.5">
<circle cx="71" cy="1437" r="3.5" fill="#F8766D"/><text x="78" y="1440">Tc1</text>
<circle cx="71" cy="1449" r="3.5" fill="#E58700"/><text x="78" y="1452">Tc2</text>
<circle cx="71" cy="1461" r="3.5" fill="#C99800"/><text x="78" y="1464">Tc3</text>
<circle cx="71" cy="1473" r="3.5" fill="#A3A500"/><text x="78" y="1476">Tc4</text>
<circle cx="71" cy="1485" r="3.5" fill="#6BB100"/><text x="78" y="1488">Tc5</text>
<circle cx="71" cy="1497" r="3.5" fill="#00BA38"/><text x="78" y="1500">Tc6</text>
<circle cx="71" cy="1509" r="3.5" fill="#00BF7D"/><text x="78" y="1512">Tc7</text>
<circle cx="71" cy="1521" r="3.5" fill="#00C0AF"/><text x="78" y="1524">Tc8</text>
<circle cx="133" cy="1437" r="3.5" fill="#00BCD8"/><text x="140" y="1440">Th1</text>
<circle cx="133" cy="1449" r="3.5" fill="#00B0F6"/><text x="140" y="1452">Th2</text>
<circle cx="133" cy="1461" r="3.5" fill="#619CFF"/><text x="140" y="1464">Th3</text>
<circle cx="133" cy="1473" r="3.5" fill="#B983FF"/><text x="140" y="1476">Th4</text>
<circle cx="133" cy="1485" r="3.5" fill="#E76BF3"/><text x="140" y="1488">Th5</text>
<circle cx="133" cy="1497" r="3.5" fill="#FD61D1"/><text x="140" y="1500">Th6</text>
<circle cx="133" cy="1509" r="3.5" fill="#FF67A4"/><text x="140" y="1512">Th7</text>
</g>
<g opacity="0.5">
<polygon points="118,1280 150,1290 190,1300 210,1325 200,1335 160,1310" fill="#F4A0A0"/>
<polygon points="200,1320 240,1290 250,1300 230,1345 205,1340" fill="#F0C080"/>
<polygon points="235,1285 245,1270 250,1280 242,1340" fill="#A0E0E0"/>
</g>
<polyline points="148,1283 187,1307 210,1317 232,1293 240,1335" fill="none" stroke="#000" stroke-width="0.8"/>
<g font-size="9">
<circle cx="257" cy="1298" r="3.5" fill="#5CD0C8"/><text x="266" y="1301">central memory T</text>
<circle cx="257" cy="1311" r="3.5" fill="#F0E070"/><text x="266" y="1314">effector memory T</text>
<circle cx="257" cy="1324" r="3.5" fill="#C0B0F0"/><text x="266" y="1327">effector T</text>
<circle cx="257" cy="1337" r="3.5" fill="#F08080"/><text x="266" y="1340">naive T</text>
<circle cx="257" cy="1350" r="3.5" fill="#6AA0E8"/><text x="266" y="1353">Treg</text>
<circle cx="257" cy="1363" r="3.5" fill="#F0A050"/><text x="266" y="1366">T<tspan font-size="6" dy="2">RM</tspan></text>
</g>

<!-- ================= Panel g ================= -->
<text x="440" y="985" font-size="30" font-weight="bold">g</text>
<rect x="437" y="1008" width="558" height="14" fill="#000"/>
<rect x="437" y="1022" width="558" height="103" fill="url(#nuc)"/>
<rect x="437" y="1127" width="558" height="108" fill="url(#nuc2)"/>
<g fill="#fff"><rect x="547" y="1022" width="1" height="213"/><rect x="659" y="1022" width="1" height="213"/><rect x="771" y="1022" width="1" height="213"/><rect x="883" y="1022" width="1" height="213"/><rect x="437" y="1125" width="558" height="1.5"/></g>
<g font-size="10"><text x="440" y="1020" fill="#22dd22">CD3</text><text x="551" y="1020" fill="#ff3030">CD4</text><text x="662" y="1020" fill="#e080f0">CD69</text><text x="774" y="1020" fill="#ff30ff">PGP9.5</text><text x="886" y="1020" fill="#fff">MERGE</text></g>
<ellipse cx="940" cy="1145" rx="25" ry="15" fill="#e020e0" opacity="0.7"/><ellipse cx="830" cy="1145" rx="25" ry="15" fill="#e020e0" opacity="0.7"/>
<ellipse cx="590" cy="1050" rx="4" ry="8" fill="#e02020" opacity="0.7"/><ellipse cx="455" cy="1060" rx="3" ry="8" fill="#20d020" opacity="0.7"/>
<ellipse cx="815" cy="1050" rx="5" ry="4" fill="#e070e0" opacity="0.8"/><ellipse cx="925" cy="1055" rx="6" ry="5" fill="#e0a030" opacity="0.8"/>
<rect x="520" y="1220" width="22" height="2" fill="#fff"/>
<text x="432" y="1075" font-size="18" text-anchor="middle" transform="rotate(-90 432 1075)">case</text>
<text x="432" y="1180" font-size="18" text-anchor="middle" transform="rotate(-90 432 1180)">control</text>
<text x="1107" y="1058" font-size="14" font-weight="bold" text-anchor="middle">CD4+ T<tspan font-size="10" dy="4">RM</tspan></text>
<g stroke="#000" fill="none"><path d="M1030 1080 V1184 H1165 M1026 1082 h4 M1026 1116 h4 M1026 1150 h4 M1026 1184 h4"/><path d="M1070 1112 H1140"/></g>
<g font-size="8" text-anchor="end"><text x="1024" y="1085">30</text><text x="1024" y="1119">20</text><text x="1024" y="1153">10</text><text x="1024" y="1187">0</text></g>
<text x="1007" y="1132" font-size="10" font-weight="bold" text-anchor="middle" transform="rotate(-90 1007 1132)">count/HPF</text>
<text x="1105" y="1109" font-size="12">*</text>
<g font-size="11" font-weight="bold" text-anchor="middle"><text x="1070" y="1200">case</text><text x="1137" y="1200">control</text></g>
<g stroke="#b22222" stroke-width="1.3"><path d="M1055 1144 h30 M1064 1121 h12 M1070 1121 V1166 M1064 1166 h12"/></g>
<g fill="#b22222"><circle cx="1062" cy="1128" r="3"/><circle cx="1078" cy="1132" r="3"/><circle cx="1068" cy="1140" r="3"/><circle cx="1073" cy="1150" r="3"/><circle cx="1064" cy="1157" r="3"/><circle cx="1077" cy="1157" r="3"/></g>
<g stroke="#2e7d32" stroke-width="1.3"><path d="M1120 1145 h28 M1128 1131 h12 M1134 1131 V1162 M1128 1162 h12"/></g>
<g fill="#2e7d32"><rect x="1128" y="1130" width="5" height="5"/><rect x="1138" y="1134" width="5" height="5"/><rect x="1132" y="1142" width="5" height="5"/><rect x="1128" y="1154" width="5" height="5"/><rect x="1134" y="1163" width="5" height="5"/></g>

<!-- ================= Panel h ================= -->
<text x="440" y="1312" font-size="30" font-weight="bold">h</text>
<rect x="437" y="1330" width="558" height="13" fill="#000"/>
<rect x="437" y="1343" width="558" height="103" fill="url(#nuc2)"/>
<rect x="437" y="1448" width="558" height="107" fill="url(#nuc)"/>
<g fill="#fff"><rect x="547" y="1343" width="1" height="212"/><rect x="659" y="1343" width="1" height="212"/><rect x="771" y="1343" width="1" height="212"/><rect x="883" y="1343" width="1" height="212"/><rect x="437" y="1446" width="558" height="1.5"/></g>
<g font-size="10"><text x="440" y="1341" fill="#22dd22">CD3</text><text x="551" y="1341" fill="#ff3030">CD8</text><text x="662" y="1341" fill="#e080f0">CD69</text><text x="774" y="1341" fill="#ff30ff">PGP9.5</text><text x="886" y="1341" fill="#fff">MERGE</text></g>
<ellipse cx="830" cy="1480" rx="30" ry="18" fill="#c020c0" opacity="0.45"/><ellipse cx="940" cy="1480" rx="30" ry="18" fill="#c020c0" opacity="0.45"/>
<ellipse cx="460" cy="1352" rx="5" ry="4" fill="none" stroke="#30e030" stroke-width="1.5"/><ellipse cx="520" cy="1410" rx="3" ry="6" fill="#30d030"/>
<ellipse cx="680" cy="1355" rx="5" ry="4" fill="none" stroke="#f0a0f0" stroke-width="1.5"/><ellipse cx="905" cy="1355" rx="5" ry="4" fill="none" stroke="#fff" stroke-width="1.5"/>
<rect x="520" y="1542" width="22" height="2" fill="#fff"/>
<text x="432" y="1395" font-size="18" text-anchor="middle" transform="rotate(-90 432 1395)">case</text>
<text x="432" y="1500" font-size="18" text-anchor="middle" transform="rotate(-90 432 1500)">control</text>
<text x="1107" y="1390" font-size="14" font-weight="bold" text-anchor="middle">CD8+ T<tspan font-size="10" dy="4">RM</tspan></text>
<g stroke="#000" fill="none"><path d="M1030 1406 V1513 H1165 M1026 1408 h4 M1026 1435 h4 M1026 1461 h4 M1026 1487 h4 M1026 1513 h4"/><path d="M1070 1440 H1140"/></g>
<g font-size="8" text-anchor="end"><text x="1024" y="1411">40</text><text x="1024" y="1438">30</text><text x="1024" y="1464">20</text><text x="1024" y="1490">10</text><text x="1024" y="1516">0</text></g>
<text x="1007" y="1461" font-size="10" font-weight="bold" text-anchor="middle" transform="rotate(-90 1007 1461)">count/HPF</text>
<text x="1098" y="1436" font-size="12">**</text>
<g font-size="11" font-weight="bold" text-anchor="middle"><text x="1070" y="1529">case</text><text x="1137" y="1529">control</text></g>
<g stroke="#b22222" stroke-width="1.3"><path d="M1055 1450 h30 M1064 1441 h12 M1070 1441 V1460 M1064 1460 h12"/></g>
<g fill="#b22222"><circle cx="1062" cy="1446" r="3"/><circle cx="1078" cy="1444" r="3"/><circle cx="1068" cy="1450" r="3"/><circle cx="1073" cy="1454" r="3"/><circle cx="1064" cy="1458" r="3"/><circle cx="1077" cy="1458" r="3"/></g>
<g stroke="#2e7d32" stroke-width="1.3"><path d="M1120 1475 h28 M1128 1465 h12 M1134 1465 V1488 M1128 1488 h12"/></g>
<g fill="#2e7d32"><rect x="1128" y="1464" width="5" height="5"/><rect x="1138" y="1468" width="5" height="5"/><rect x="1132" y="1474" width="5" height="5"/><rect x="1128" y="1482" width="5" height="5"/><rect x="1134" y="1488" width="5" height="5"/></g>
</svg>
</body></html>
